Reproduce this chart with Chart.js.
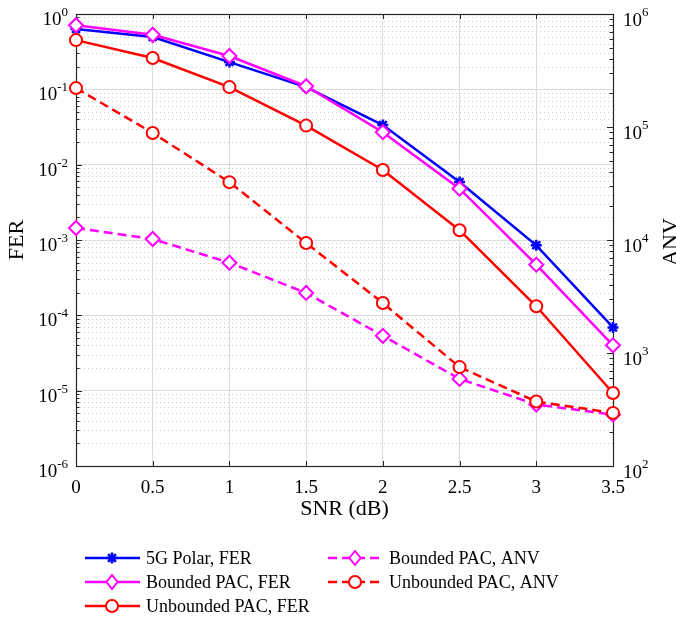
<!DOCTYPE html>
<html lang="en">
<head>
<meta charset="UTF-8">
<title>FER and ANV vs SNR</title>
<script src="https://cdn.jsdelivr.net/npm/chart.js@4"></script>
<style>
    html, body { margin: 0; padding: 0; background: #fff; }
</style>
</head>
<body>
<canvas id="ferChart" width="676" height="617"></canvas>
<script>
    // data
    const snr = [0, 0.5, 1, 1.5, 2, 2.5, 3, 3.5];
    const polarFer = [0.63, 0.495, 0.23, 0.107, 0.0336, 0.0059, 8.5e-4, 6.9e-5];
    const boundedFer = [0.71, 0.53, 0.277, 0.11, 0.027, 0.0048, 4.7e-4, 4.0e-5];
    const unboundedFer = [0.45, 0.26, 0.107, 0.033, 0.0085, 0.00135, 1.32e-4, 9.3e-6];
    const boundedAnv = [12770, 10200, 6300, 3400, 1420, 590, 350, 285];
    const unboundedAnv = [221000, 88500, 32500, 9400, 2770, 750, 372, 295];

    // tick labels (exponents of ten)
    const ferDecades = [-6, -5, -4, -3, -2, -1, 0];
    const anvDecades = [2, 3, 4, 5, 6];
    const xTickStep = 0.5;

    const FONT = '"Liberation Serif", "Times New Roman", serif';

    function pts(vals) {
        return snr.map((x, i) => ({ x: x, y: vals[i] }));
    }
    function logTicks(decades) {
        const out = [];
        for (let i = 0; i < decades.length; i++) {
            const base = Math.pow(10, decades[i]);
            out.push({ value: base, major: true });
            if (i < decades.length - 1) {
                for (let m = 2; m <= 9; m++) out.push({ value: m * base, major: false });
            }
        }
        return out;
    }
    function isDecade(v) {
        const l = Math.log10(v);
        return Math.abs(l - Math.round(l)) < 1e-9;
    }

    const series = [
        { label: '5G Polar, FER', data: polarFer, axis: 'y', color: '#0000ff', marker: 'star', r: 5.5, dash: [] },
        { label: 'Bounded PAC, FER', data: boundedFer, axis: 'y', color: '#ff00ff', marker: 'rectRot', r: 7, dash: [] },
        { label: 'Unbounded PAC, FER', data: unboundedFer, axis: 'y', color: '#ff0000', marker: 'circle', r: 6, dash: [] },
        { label: 'Bounded PAC, ANV', data: boundedAnv, axis: 'y1', color: '#ff00ff', marker: 'rectRot', r: 7, dash: [9, 5] },
        { label: 'Unbounded PAC, ANV', data: unboundedAnv, axis: 'y1', color: '#ff0000', marker: 'circle', r: 6, dash: [9, 5] }
    ];

    function drawMarker(ctx, s, x, y) {
        const r = s.r;
        ctx.save();
        ctx.setLineDash([]);
        ctx.strokeStyle = s.color;
        ctx.fillStyle = '#fff';
        ctx.lineWidth = s.marker === 'star' ? 2.5 : 2;
        ctx.beginPath();
        if (s.marker === 'circle') {
            ctx.arc(x, y, r, 0, Math.PI * 2);
            ctx.fill();
        } else if (s.marker === 'rectRot') {
            ctx.moveTo(x, y - r); ctx.lineTo(x + r * 0.8, y);
            ctx.lineTo(x, y + r); ctx.lineTo(x - r * 0.8, y);
            ctx.closePath();
            ctx.fill();
        } else {
            for (let k = 0; k < 4; k++) {
                const a = k * Math.PI / 4;
                ctx.moveTo(x - Math.cos(a) * r, y - Math.sin(a) * r);
                ctx.lineTo(x + Math.cos(a) * r, y + Math.sin(a) * r);
            }
        }
        ctx.stroke();
        ctx.restore();
    }

    // frame, minor grid, inner ticks, labels and legend
    const matlabAxes = {
        id: 'matlabAxes',
        beforeDatasetsDraw(chart) {
            const { ctx, chartArea: a, scales } = chart;
            const y = scales.y, y1 = scales.y1, x = scales.x;
            ctx.save();
            ctx.strokeStyle = '#cacaca';
            ctx.lineWidth = 1;
            ctx.setLineDash([1, 3]);
            y.ticks.forEach(t => {
                if (isDecade(t.value)) return;
                const py = Math.round(y.getPixelForValue(t.value)) + 0.5;
                ctx.beginPath(); ctx.moveTo(a.left, py); ctx.lineTo(a.right, py); ctx.stroke();
            });
            ctx.setLineDash([]);
            ctx.strokeStyle = '#262626';
            // inner ticks
            y.ticks.forEach(t => {
                const py = Math.round(y.getPixelForValue(t.value)) + 0.5;
                const len = isDecade(t.value) ? 6 : 3.5;
                ctx.beginPath(); ctx.moveTo(a.left, py); ctx.lineTo(a.left + len, py); ctx.stroke();
            });
            y1.ticks.forEach(t => {
                const py = Math.round(y1.getPixelForValue(t.value)) + 0.5;
                const len = isDecade(t.value) ? 6 : 3.5;
                ctx.beginPath(); ctx.moveTo(a.right, py); ctx.lineTo(a.right - len, py); ctx.stroke();
            });
            x.ticks.forEach(t => {
                const px = Math.round(x.getPixelForValue(t.value)) + 0.5;
                ctx.beginPath(); ctx.moveTo(px, a.bottom); ctx.lineTo(px, a.bottom - 5); ctx.stroke();
                ctx.beginPath(); ctx.moveTo(px, a.top); ctx.lineTo(px, a.top + 5); ctx.stroke();
            });
            // box
            ctx.lineWidth = 1.2;
            ctx.strokeRect(Math.round(a.left) + 0.5, Math.round(a.top) + 0.5,
                Math.round(a.right - a.left), Math.round(a.bottom - a.top));
            ctx.restore();
        },
        afterDraw(chart) {
            const { ctx, chartArea: a, scales } = chart;
            const y = scales.y, y1 = scales.y1, x = scales.x;
            ctx.save();
            ctx.fillStyle = '#000';

            // x tick labels
            ctx.font = '19px ' + FONT;
            ctx.textAlign = 'center';
            ctx.textBaseline = 'alphabetic';
            x.ticks.forEach(t => {
                ctx.fillText(String(t.value), x.getPixelForValue(t.value), a.bottom + 27);
            });

            // left: 10^n, right aligned
            ctx.textAlign = 'left';
            ferDecades.forEach(d => {
                const py = y.getPixelForValue(Math.pow(10, d));
                const ex = String(d);
                ctx.font = '13px ' + FONT;
                const ew = ctx.measureText(ex).width;
                ctx.fillText(ex, a.left - 8 - ew, py + 2);
                ctx.font = '19px ' + FONT;
                const bw = ctx.measureText('10').width;
                ctx.fillText('10', a.left - 8 - ew - bw, py + 11);
            });
            // right: 10^n, left aligned
            anvDecades.forEach(d => {
                const py = y1.getPixelForValue(Math.pow(10, d));
                ctx.font = '19px ' + FONT;
                const bw = ctx.measureText('10').width;
                ctx.fillText('10', a.right + 10, py + 12);
                ctx.font = '13px ' + FONT;
                ctx.fillText(String(d), a.right + 10 + bw, py + 2);
            });

            // axis titles
            ctx.font = '22px ' + FONT;
            ctx.textAlign = 'center';
            ctx.fillText('SNR (dB)', (a.left + a.right) / 2, a.bottom + 49);
            ctx.save();
            ctx.translate(23, (a.top + a.bottom) / 2);
            ctx.rotate(-Math.PI / 2);
            ctx.fillText('FER', 0, 0);
            ctx.restore();
            ctx.save();
            ctx.translate(677, (a.top + a.bottom) / 2 + 2);
            ctx.rotate(-Math.PI / 2);
            ctx.fillText('ANV', 0, 0);
            ctx.restore();

            // legend, two columns
            const cols = [{ x: 85, items: [0, 1, 2] }, { x: 328, items: [3, 4] }];
            const rowY = [558, 582, 606];
            ctx.font = '18px ' + FONT;
            ctx.textAlign = 'left';
            ctx.textBaseline = 'middle';
            cols.forEach(c => {
                c.items.forEach((idx, r) => {
                    const s = series[idx];
                    const ly = rowY[r];
                    ctx.save();
                    ctx.strokeStyle = s.color;
                    ctx.lineWidth = 2.5;
                    ctx.setLineDash(s.dash);
                    ctx.beginPath(); ctx.moveTo(c.x, ly); ctx.lineTo(c.x + 55, ly); ctx.stroke();
                    ctx.restore();
                    drawMarker(ctx, s, c.x + 27, ly);
                    ctx.fillStyle = '#000';
                    ctx.fillText(s.label, c.x + 61, ly + 1);
                });
            });
            ctx.restore();
        }
    };

    const n = series.length;
    const datasets = series.map((s, i) => ({
        label: s.label,
        data: pts(s.data),
        yAxisID: s.axis,
        borderColor: s.color,
        backgroundColor: s.color,
        borderWidth: 2.5,
        borderDash: s.dash,
        pointStyle: s.marker,
        pointRadius: s.r,
        pointBorderWidth: s.marker === 'star' ? 2.5 : 2,
        pointBorderColor: s.color,
        pointBackgroundColor: '#fff',
        tension: 0,
        clip: false,
        order: n - 1 - i
    }));

    new Chart(document.getElementById('ferChart'), {
        type: 'line',
        data: { datasets: datasets },
        plugins: [matlabAxes],
        options: {
            responsive: false,
            animation: false,
            layout: { padding: { left: 76, right: 63, top: 14, bottom: 151 } },
            plugins: { legend: { display: false }, tooltip: { enabled: false } },
            scales: {
                x: {
                    type: 'linear', min: 0, max: 3.5,
                    ticks: { stepSize: xTickStep, display: false },
                    grid: { color: '#dcdcdc', drawTicks: false },
                    border: { display: false },
                    afterFit: s => { s.height = 0; }
                },
                y: {
                    type: 'logarithmic', position: 'left',
                    min: Math.pow(10, ferDecades[0]), max: Math.pow(10, ferDecades[ferDecades.length - 1]),
                    afterBuildTicks: s => { s.ticks = logTicks(ferDecades); },
                    ticks: { display: false, autoSkip: false },
                    grid: { color: c => (c.tick && isDecade(c.tick.value)) ? '#dcdcdc' : 'rgba(0,0,0,0)', drawTicks: false },
                    border: { display: false },
                    afterFit: s => { s.width = 0; }
                },
                y1: {
                    type: 'logarithmic', position: 'right',
                    min: Math.pow(10, anvDecades[0]), max: Math.pow(10, anvDecades[anvDecades.length - 1]),
                    afterBuildTicks: s => { s.ticks = logTicks(anvDecades); },
                    ticks: { display: false, autoSkip: false },
                    grid: { drawOnChartArea: false, drawTicks: false },
                    border: { display: false },
                    afterFit: s => { s.width = 0; }
                }
            }
        }
    });
</script>
</body>
</html>
